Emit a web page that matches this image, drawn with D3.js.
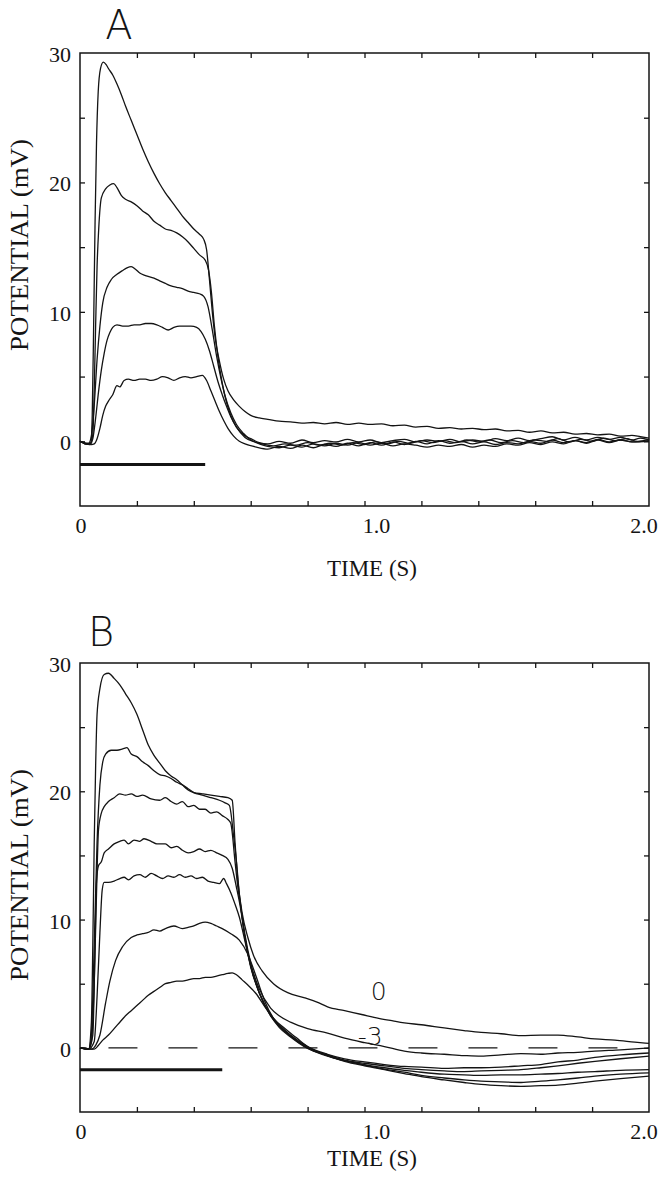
<!DOCTYPE html>
<html><head><meta charset="utf-8">
<script src="https://cdn.jsdelivr.net/npm/d3@7"></script>
<style>body{margin:0;background:#fff}svg{display:block}</style>
</head><body>
<svg id="chart" width="664" height="1199"></svg>
<script>
// ---------------- DATA ----------------
const timeTickValues = [0,0.2,0.4,0.6,0.8,1.0,1.2,1.4,1.6,1.8,2.0];
const potTickValues = [-5,0,5,10,15,20,25,30];
const xLabelValues = [0,1,2];
const xLabelTexts = ["0","1.0","2.0"];
const yLabelValues = [0,10,20,30];
const yLabelTexts = ["0","10","20","30"];
const xDomain = [0,2];
const yDomain = [-5,30];
const panelLetters = ["A","B"];
const xTitle = "TIME (S)";
const yTitle = "POTENTIAL (mV)";

// stimulus bars [start s, end s, level mV]
const stimA = [0, 0.44, -1.8];
const stimB = [0, 0.50, -1.7];
// dashed zero reference in B [start s, end s, level mV]
const zeroRefB = [0.1, 1.89, 0];
// trace labels in B
const traceLabelTexts = ["0","-3"];
const traceLabelT = [1.05, 1.02];
const traceLabelV = [4.4, 0.95];

const traceA1 = [[0,0],[0.01,-0.1],[0.02,-0.2],[0.03,-0.2],[0.038,-0.1],[0.043,2],[0.048,9],[0.053,17],[0.058,23],[0.064,27],[0.072,28.8],[0.082,29.3],[0.092,29.1],[0.1,28.8],[0.115,28.3],[0.13,27.6],[0.145,26.8],[0.16,25.9],[0.18,24.8],[0.2,23.7],[0.22,22.6],[0.24,21.6],[0.26,20.7],[0.28,19.9],[0.3,19.2],[0.32,18.6],[0.34,18.0],[0.36,17.4],[0.38,16.9],[0.4,16.4],[0.42,16.0],[0.435,15.6],[0.445,14.8],[0.455,12.5],[0.465,10],[0.475,8],[0.49,6.2],[0.505,4.8],[0.52,3.9],[0.54,3.2],[0.56,2.7],[0.58,2.3],[0.6,2.0],[0.63,1.8],[0.66,1.7],[0.7,1.55],[0.74,1.5],[0.78,1.4],[0.82,1.45],[0.86,1.35],[0.9,1.45],[0.94,1.3],[0.98,1.4],[1.02,1.3],[1.06,1.35],[1.1,1.2],[1.14,1.25],[1.18,1.1],[1.22,1.15],[1.26,1.0],[1.3,1.05],[1.34,0.95],[1.38,1.0],[1.42,0.9],[1.46,0.95],[1.5,0.8],[1.54,0.85],[1.58,0.7],[1.62,0.8],[1.66,0.65],[1.7,0.7],[1.74,0.55],[1.78,0.6],[1.82,0.5],[1.86,0.55],[1.9,0.4],[1.94,0.45],[1.97,0.35],[2.0,0.25]];
const traceA2 = [[0,0],[0.01,-0.1],[0.02,-0.2],[0.035,-0.2],[0.045,0.5],[0.05,4],[0.055,9],[0.06,13.5],[0.066,16.5],[0.075,18.8],[0.09,19.5],[0.105,19.8],[0.118,19.9],[0.13,19.6],[0.145,19.0],[0.16,18.7],[0.18,18.5],[0.2,18.2],[0.22,17.8],[0.24,17.5],[0.26,17.0],[0.28,16.7],[0.3,16.4],[0.32,16.3],[0.34,16.1],[0.36,15.8],[0.38,15.4],[0.4,14.9],[0.42,14.4],[0.44,14.0],[0.452,13.2],[0.462,11.5],[0.472,9.0],[0.485,6.5],[0.5,4.5],[0.515,3.0],[0.53,2.0],[0.55,1.1],[0.575,0.5],[0.6,0.2],[0.63,-0.1],[0.66,-0.2],[0.7,0.0],[0.74,-0.15],[0.78,0.1],[0.82,-0.1],[0.86,0.05],[0.9,-0.05],[0.94,0.15],[0.98,-0.05],[1.02,0.1],[1.06,-0.1],[1.1,0.05],[1.14,0.15],[1.18,-0.05],[1.22,0.1],[1.26,0.0],[1.3,0.15],[1.34,-0.05],[1.38,0.1],[1.42,0.0],[1.46,0.2],[1.5,0.05],[1.54,0.25],[1.58,0.05],[1.62,0.2],[1.66,0.35],[1.7,0.1],[1.74,0.3],[1.78,0.1],[1.82,0.3],[1.86,0.15],[1.9,0.3],[1.94,0.1],[1.97,0.25],[2.0,0.1]];
const traceA3 = [[0,0],[0.015,-0.1],[0.03,-0.15],[0.04,0.4],[0.05,2.8],[0.06,6.3],[0.07,8.9],[0.08,10.7],[0.095,11.9],[0.11,12.5],[0.13,12.9],[0.15,13.2],[0.165,13.4],[0.18,13.5],[0.195,13.3],[0.21,13.0],[0.23,12.8],[0.26,12.6],[0.28,12.4],[0.3,12.2],[0.32,12.0],[0.34,11.9],[0.36,11.8],[0.38,11.6],[0.4,11.5],[0.42,11.4],[0.435,11.2],[0.45,10.4],[0.465,8.6],[0.48,6.6],[0.495,4.9],[0.51,3.5],[0.53,2.2],[0.55,1.3],[0.575,0.6],[0.6,0.1],[0.64,-0.2],[0.68,-0.35],[0.72,-0.2],[0.76,-0.3],[0.8,-0.1],[0.84,-0.3],[0.88,-0.15],[0.92,-0.3],[0.96,-0.1],[1.0,-0.25],[1.04,-0.05],[1.08,-0.2],[1.12,0.0],[1.16,-0.15],[1.2,0.05],[1.24,-0.1],[1.28,0.05],[1.32,-0.1],[1.36,0.1],[1.4,-0.05],[1.44,0.1],[1.48,-0.1],[1.52,0.05],[1.56,-0.1],[1.6,0.1],[1.64,0.0],[1.68,0.2],[1.72,-0.05],[1.76,0.15],[1.8,0.0],[1.84,0.25],[1.88,0.05],[1.92,0.2],[1.96,0.0],[2.0,0.15]];
const traceA4 = [[0,0],[0.02,-0.2],[0.035,-0.25],[0.045,0.2],[0.055,1.8],[0.065,3.8],[0.075,5.5],[0.085,6.8],[0.095,7.8],[0.105,8.4],[0.115,8.8],[0.13,9.0],[0.15,8.9],[0.17,8.9],[0.19,9.0],[0.21,9.0],[0.23,9.1],[0.25,9.1],[0.27,9.0],[0.29,8.8],[0.31,8.6],[0.33,8.8],[0.35,8.9],[0.37,8.9],[0.39,8.9],[0.41,8.8],[0.425,8.5],[0.44,7.9],[0.455,7.0],[0.47,5.8],[0.485,4.6],[0.5,3.6],[0.515,2.7],[0.53,1.9],[0.55,1.1],[0.58,0.3],[0.62,-0.1],[0.66,-0.4],[0.7,-0.5],[0.74,-0.3],[0.78,-0.45],[0.82,-0.2],[0.86,-0.35],[0.9,-0.15],[0.94,-0.3],[0.98,-0.1],[1.02,-0.3],[1.06,-0.15],[1.1,-0.35],[1.14,-0.2],[1.18,-0.3],[1.22,-0.45],[1.26,-0.3],[1.3,-0.4],[1.34,-0.25],[1.38,-0.45],[1.42,-0.3],[1.46,-0.4],[1.5,-0.2],[1.54,-0.3],[1.58,-0.1],[1.62,-0.25],[1.66,-0.05],[1.7,-0.2],[1.74,0.05],[1.78,-0.15],[1.82,0.1],[1.86,-0.1],[1.9,0.1],[1.94,-0.05],[2.0,0.05]];
const traceA5 = [[0,0],[0.02,-0.2],[0.04,-0.25],[0.05,-0.2],[0.06,0.2],[0.07,1.0],[0.08,2.0],[0.09,2.7],[0.1,3.1],[0.115,3.6],[0.13,4.3],[0.14,4.2],[0.155,4.7],[0.17,4.8],[0.19,4.7],[0.21,4.8],[0.23,4.8],[0.25,4.7],[0.27,4.8],[0.29,5.0],[0.31,4.9],[0.33,4.7],[0.35,4.9],[0.37,5.0],[0.39,4.9],[0.41,5.0],[0.43,5.1],[0.445,4.7],[0.46,3.9],[0.475,3.1],[0.49,2.3],[0.505,1.6],[0.52,1.0],[0.54,0.4],[0.56,0.0],[0.58,-0.2],[0.62,-0.45],[0.66,-0.6],[0.7,-0.4],[0.74,-0.55],[0.78,-0.3],[0.82,-0.5],[0.86,-0.25],[0.9,-0.4],[0.94,-0.15],[0.98,-0.35],[1.02,-0.1],[1.06,-0.3],[1.1,-0.05],[1.14,-0.25],[1.18,0.0],[1.22,-0.2],[1.26,0.05],[1.3,-0.15],[1.34,0.0],[1.38,-0.2],[1.42,-0.05],[1.46,-0.25],[1.5,-0.1],[1.54,-0.2],[1.58,0.0],[1.62,-0.15],[1.66,0.1],[1.7,-0.1],[1.74,0.05],[1.78,-0.1],[1.82,0.15],[1.86,-0.05],[1.9,0.1],[1.94,-0.05],[2.0,0.0]];

const traceB1 = [[0,0],[0.02,0],[0.03,-0.1],[0.04,2],[0.045,8],[0.05,16],[0.055,22],[0.06,26],[0.07,28],[0.085,29.1],[0.1,29.2],[0.12,28.8],[0.14,28.3],[0.16,27.6],[0.18,26.9],[0.2,26.0],[0.22,24.8],[0.24,23.6],[0.26,22.8],[0.28,22.2],[0.3,21.6],[0.32,21.2],[0.34,20.9],[0.36,20.5],[0.38,20.1],[0.4,19.9],[0.43,19.8],[0.46,19.7],[0.49,19.6],[0.52,19.5],[0.535,19.3],[0.545,16],[0.555,13],[0.57,10.5],[0.59,8.6],[0.61,7.2],[0.64,6.0],[0.68,5.0],[0.73,4.3],[0.79,3.9],[0.84,3.5],[0.87,3.2],[0.93,2.9],[0.99,2.6],[1.05,2.3],[1.1,2.1],[1.14,1.95],[1.2,1.8],[1.28,1.55],[1.35,1.35],[1.41,1.2],[1.48,1.1],[1.55,0.95],[1.62,1.0],[1.68,1.0],[1.75,0.85],[1.81,0.7],[1.88,0.6],[1.95,0.45],[2.0,0.35]];
const traceB2 = [[0,0],[0.03,-0.1],[0.04,1],[0.05,8],[0.06,16],[0.07,20.5],[0.08,22.3],[0.09,22.9],[0.11,23.2],[0.13,23.2],[0.15,23.3],[0.165,23.4],[0.18,22.9],[0.2,22.7],[0.22,22.3],[0.24,22.0],[0.26,21.6],[0.28,21.3],[0.3,21.2],[0.32,21.0],[0.34,20.7],[0.36,20.5],[0.38,20.2],[0.4,19.9],[0.43,19.7],[0.46,19.5],[0.49,19.3],[0.51,19.1],[0.525,18.9],[0.54,16.5],[0.55,14.5],[0.56,12],[0.58,8.8],[0.6,6.6],[0.63,4.6],[0.67,3.1],[0.7,2.5],[0.74,2.0],[0.8,1.5],[0.87,1.15],[0.93,0.75],[1.0,0.4],[1.07,0.1],[1.14,-0.25],[1.2,-0.4],[1.28,-0.5],[1.35,-0.6],[1.41,-0.65],[1.48,-0.55],[1.55,-0.45],[1.62,-0.5],[1.68,-0.4],[1.75,-0.35],[1.81,-0.25],[1.9,-0.15],[2.0,0]];
const traceB3 = [[0,0],[0.03,-0.1],[0.04,0.5],[0.05,5],[0.058,12],[0.065,17],[0.075,18.3],[0.085,18.8],[0.1,19.2],[0.12,19.5],[0.14,19.8],[0.16,19.7],[0.18,19.8],[0.2,19.6],[0.22,19.7],[0.25,19.4],[0.28,19.3],[0.3,19.5],[0.32,19.2],[0.34,19.0],[0.36,19.2],[0.38,18.8],[0.4,18.9],[0.42,18.6],[0.44,18.6],[0.46,18.3],[0.48,18.4],[0.5,18.1],[0.52,17.8],[0.53,17.5],[0.545,14.5],[0.555,12.5],[0.565,11],[0.58,8.5],[0.6,6.3],[0.63,4.3],[0.67,2.6],[0.7,1.8],[0.74,1.0],[0.8,0.1],[0.87,-0.5],[0.93,-0.85],[1.0,-1.1],[1.07,-1.3],[1.14,-1.45],[1.2,-1.5],[1.28,-1.6],[1.35,-1.55],[1.41,-1.55],[1.48,-1.5],[1.55,-1.4],[1.62,-1.3],[1.68,-1.1],[1.75,-0.95],[1.81,-0.75],[1.9,-0.55],[2.0,-0.4]];
const traceB4 = [[0,0],[0.03,-0.1],[0.045,1],[0.052,7],[0.058,13],[0.065,14.2],[0.075,14.5],[0.085,15.2],[0.1,15.5],[0.12,15.9],[0.14,16.1],[0.155,16.2],[0.17,15.9],[0.19,16.2],[0.21,16.1],[0.225,16.3],[0.25,16.1],[0.27,15.9],[0.3,15.9],[0.32,15.6],[0.34,15.7],[0.36,15.4],[0.38,15.2],[0.4,15.3],[0.42,15.5],[0.44,15.3],[0.46,15.4],[0.48,15.2],[0.5,15.0],[0.52,14.7],[0.535,14.0],[0.55,12.5],[0.565,10.8],[0.58,8.6],[0.6,6.4],[0.63,4.3],[0.67,2.5],[0.7,1.7],[0.74,0.9],[0.8,0.0],[0.87,-0.55],[0.93,-0.95],[1.0,-1.2],[1.07,-1.4],[1.14,-1.6],[1.2,-1.7],[1.28,-1.8],[1.35,-1.85],[1.41,-1.8],[1.48,-1.75],[1.55,-1.7],[1.62,-1.55],[1.68,-1.4],[1.75,-1.2],[1.81,-1.05],[1.9,-0.85],[2.0,-0.65]];
const traceB5 = [[0,0],[0.03,-0.1],[0.05,0.5],[0.06,4],[0.07,9],[0.078,12.3],[0.085,12.9],[0.1,12.9],[0.12,13.0],[0.14,13.2],[0.155,13.3],[0.17,13.1],[0.19,13.4],[0.21,13.5],[0.23,13.3],[0.25,13.6],[0.27,13.4],[0.29,13.2],[0.31,13.4],[0.33,13.3],[0.35,13.5],[0.37,13.3],[0.39,13.4],[0.41,13.2],[0.43,13.3],[0.45,13.0],[0.47,12.9],[0.49,12.8],[0.505,13.2],[0.515,12.8],[0.53,12.1],[0.545,11.2],[0.56,10.2],[0.58,8.3],[0.6,6.4],[0.63,4.3],[0.67,2.5],[0.7,1.6],[0.74,0.85],[0.8,-0.05],[0.87,-0.6],[0.93,-1.0],[1.0,-1.3],[1.07,-1.55],[1.14,-1.75],[1.2,-1.9],[1.28,-2.05],[1.35,-2.1],[1.41,-2.15],[1.48,-2.1],[1.55,-2.1],[1.62,-2.05],[1.68,-2.0],[1.75,-1.9],[1.81,-1.85],[1.9,-1.75],[2.0,-1.7]];
const traceB6 = [[0,0],[0.04,-0.1],[0.055,0.2],[0.07,1],[0.09,3.5],[0.105,5.2],[0.125,6.8],[0.15,7.9],[0.18,8.6],[0.2,8.8],[0.22,8.9],[0.24,9.0],[0.26,9.2],[0.28,9.1],[0.3,9.3],[0.33,9.5],[0.36,9.3],[0.38,9.4],[0.4,9.5],[0.42,9.7],[0.44,9.8],[0.46,9.7],[0.48,9.5],[0.5,9.3],[0.53,8.9],[0.56,8.4],[0.59,7.3],[0.62,5.5],[0.65,3.6],[0.68,2.3],[0.72,1.3],[0.76,0.6],[0.8,0.0],[0.87,-0.65],[0.93,-1.0],[1.0,-1.35],[1.07,-1.65],[1.14,-1.9],[1.2,-2.15],[1.28,-2.35],[1.35,-2.5],[1.41,-2.6],[1.48,-2.65],[1.55,-2.7],[1.62,-2.6],[1.68,-2.5],[1.75,-2.35],[1.81,-2.2],[1.9,-2.05],[2.0,-1.95]];
const traceB7 = [[0,0],[0.05,-0.1],[0.065,0.2],[0.08,0.6],[0.1,1.0],[0.12,1.5],[0.14,2.0],[0.16,2.5],[0.18,2.9],[0.2,3.3],[0.22,3.7],[0.24,4.1],[0.26,4.4],[0.28,4.7],[0.3,5.0],[0.32,5.1],[0.34,5.2],[0.36,5.2],[0.38,5.3],[0.4,5.4],[0.42,5.4],[0.44,5.5],[0.46,5.5],[0.48,5.6],[0.5,5.7],[0.52,5.8],[0.535,5.85],[0.55,5.7],[0.57,5.3],[0.59,4.9],[0.62,4.2],[0.65,3.2],[0.68,2.3],[0.72,1.5],[0.76,0.8],[0.8,0.1],[0.87,-0.6],[0.93,-1.05],[1.0,-1.4],[1.07,-1.7],[1.14,-2.0],[1.2,-2.25],[1.28,-2.5],[1.35,-2.7],[1.41,-2.85],[1.48,-2.95],[1.55,-3.0],[1.62,-2.95],[1.68,-2.9],[1.75,-2.75],[1.81,-2.6],[1.9,-2.4],[2.0,-2.2]];

const tracesA = [traceA1, traceA2, traceA3, traceA4, traceA5];
const tracesB = [traceB1, traceB2, traceB3, traceB4, traceB5, traceB6, traceB7];

// ---------------- LAYOUT ----------------
const svg = d3.select("#chart");
const serif = "'Liberation Serif','Times New Roman',serif";
const sans = "'DejaVu Sans','Liberation Sans',Arial,sans-serif";
const ink = "#141414";
const xLabelDx = [1, 12, -5];

function drawPanel(cfg) {
  const x = d3.scaleLinear().domain(xDomain).range([cfg.left, cfg.right]);
  const y = d3.scaleLinear().domain(yDomain).range([cfg.bottom, cfg.top]);
  const g = svg.append("g");

  g.append("rect").attr("x", cfg.left).attr("y", cfg.top)
    .attr("width", cfg.right - cfg.left).attr("height", cfg.bottom - cfg.top)
    .attr("fill", "none").attr("stroke", ink).attr("stroke-width", 1.5);

  const innerT = timeTickValues.filter(v => v > xDomain[0] && v < xDomain[1]);
  const innerP = potTickValues.filter(v => v > yDomain[0] && v < yDomain[1]);
  const tl = 5;
  const axes = [
    [d3.axisTop(x).tickValues(innerT), `translate(0,${cfg.bottom})`],
    [d3.axisBottom(x).tickValues(innerT), `translate(0,${cfg.top})`],
    [d3.axisRight(y).tickValues(innerP), `translate(${cfg.left},0)`],
    [d3.axisLeft(y).tickValues(innerP), `translate(${cfg.right},0)`]
  ];
  axes.forEach(([ax, tr]) => {
    const a = g.append("g").attr("transform", tr)
      .call(ax.tickSize(tl).tickFormat(""));
    a.select(".domain").remove();
    a.selectAll("line").attr("stroke", ink).attr("stroke-width", 1.3);
  });

  g.selectAll(".xl").data(xLabelValues).enter().append("text")
    .attr("x", (d, i) => x(d) + xLabelDx[i]).attr("y", cfg.bottom + 27)
    .attr("text-anchor", "middle").attr("font-family", serif).attr("font-size", 22)
    .attr("fill", ink).text((d, i) => xLabelTexts[i]);
  g.selectAll(".yl").data(yLabelValues).enter().append("text")
    .attr("x", 71).attr("y", d => y(d) + 9)
    .attr("text-anchor", "end").attr("font-family", serif).attr("font-size", 22)
    .attr("fill", ink).text((d, i) => yLabelTexts[i]);

  g.append("text").attr("x", 372).attr("y", cfg.xTitleY)
    .attr("text-anchor", "middle").attr("font-family", serif).attr("font-size", 23)
    .attr("fill", ink).text(xTitle);
  g.append("text").attr("transform", `translate(28,${cfg.yTitleY}) rotate(-90)`)
    .attr("text-anchor", "middle").attr("font-family", serif).attr("font-size", 26)
    .attr("textLength", 212).attr("lengthAdjust", "spacingAndGlyphs")
    .attr("fill", ink).text(yTitle);
  g.append("text").attr("x", cfg.letterX).attr("y", cfg.letterY)
    .attr("text-anchor", "middle").attr("font-family", sans).attr("font-weight", 200)
    .attr("font-size", 40).attr("fill", ink).text(cfg.letter);

  g.append("line").attr("x1", x(cfg.stim[0])).attr("x2", x(cfg.stim[1]))
    .attr("y1", y(cfg.stim[2])).attr("y2", y(cfg.stim[2]))
    .attr("stroke", ink).attr("stroke-width", 3);

  if (cfg.zeroRef) {
    g.append("line").attr("x1", x(cfg.zeroRef[0])).attr("x2", x(cfg.zeroRef[1]))
      .attr("y1", y(cfg.zeroRef[2])).attr("y2", y(cfg.zeroRef[2]))
      .attr("stroke", ink).attr("stroke-width", 1.3).attr("stroke-dasharray", "29,31");
  }

  const line = d3.line().x(d => x(d[0])).y(d => y(d[1])).curve(d3.curveMonotoneX);
  g.selectAll(".tr").data(cfg.traces).enter().append("path")
    .attr("d", line).attr("fill", "none").attr("stroke", ink)
    .attr("stroke-width", 1.3).attr("stroke-linejoin", "round");

  if (cfg.traceLabels) {
    g.selectAll(".tl").data(traceLabelTexts).enter().append("text")
      .attr("x", (d, i) => x(traceLabelT[i])).attr("y", (d, i) => y(traceLabelV[i]) + 9)
      .attr("text-anchor", "middle").attr("font-family", sans).attr("font-weight", 200)
      .attr("font-size", 25).attr("fill", ink).text(d => d);
  }
}

drawPanel({left: 80, right: 649, top: 53, bottom: 506, traces: tracesA, stim: stimA,
  letter: panelLetters[0], letterX: 119, letterY: 39, xTitleY: 576, yTitleY: 245});
drawPanel({left: 80, right: 649, top: 663, bottom: 1112, traces: tracesB, stim: stimB,
  zeroRef: zeroRefB, traceLabels: true,
  letter: panelLetters[1], letterX: 101, letterY: 646, xTitleY: 1166, yTitleY: 875});
</script>
</body></html>
